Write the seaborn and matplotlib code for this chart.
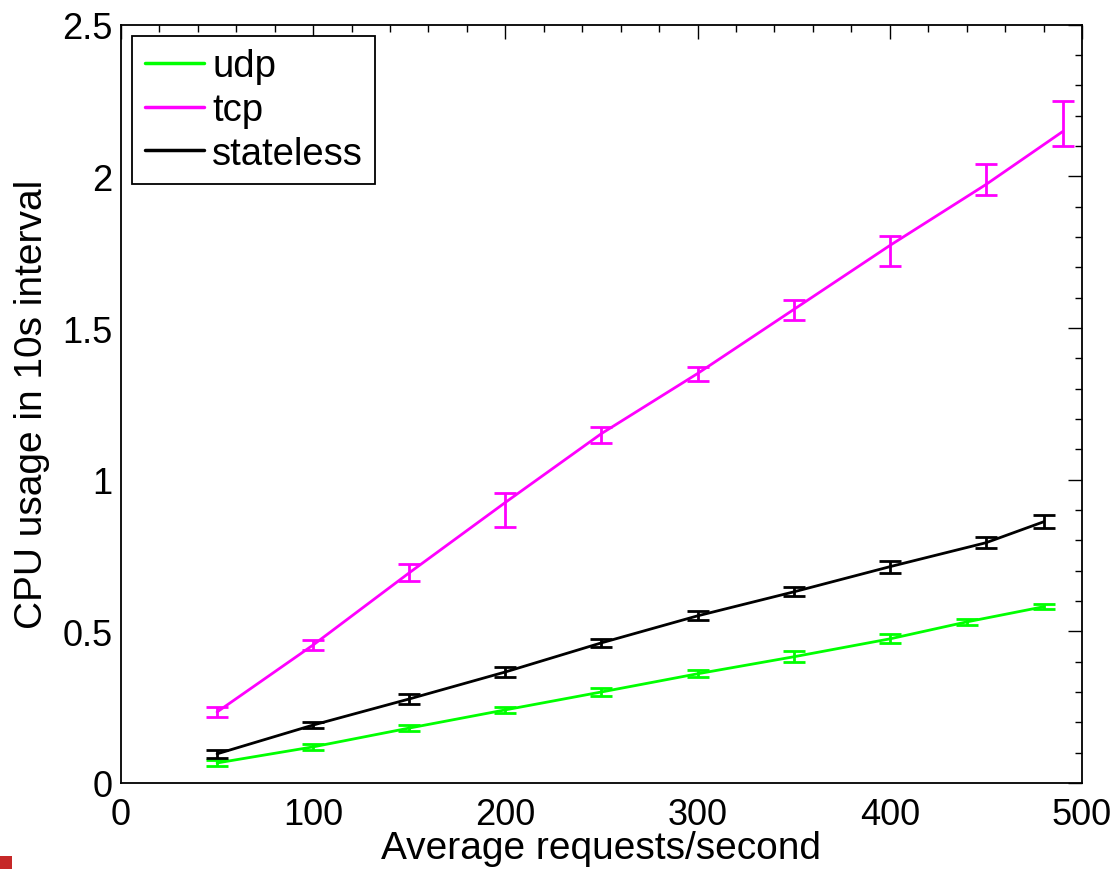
import numpy as np
import pandas as pd
import matplotlib
matplotlib.use("Agg")
import matplotlib.pyplot as plt
from matplotlib.patches import Rectangle
from matplotlib.ticker import MultipleLocator
import seaborn as sns

# ---- data ----
series_names = ["udp", "tcp", "stateless"]

udp_x = [50, 100, 150, 200, 250, 300, 350, 400, 440, 480]
udp_y = [0.066, 0.119, 0.181, 0.241, 0.300, 0.360, 0.416, 0.475, 0.531, 0.581]
udp_lo = [0.010, 0.010, 0.011, 0.011, 0.014, 0.012, 0.018, 0.015, 0.011, 0.009]
udp_hi = [0.010, 0.010, 0.011, 0.011, 0.014, 0.012, 0.018, 0.015, 0.011, 0.009]

tcp_x = [50, 100, 150, 200, 250, 300, 350, 400, 450, 490]
tcp_y = [0.234, 0.455, 0.693, 0.925, 1.152, 1.350, 1.561, 1.772, 1.973, 2.148]
tcp_lo = [0.015, 0.017, 0.028, 0.080, 0.030, 0.023, 0.033, 0.066, 0.036, 0.049]
tcp_hi = [0.015, 0.017, 0.028, 0.032, 0.023, 0.020, 0.030, 0.030, 0.067, 0.100]

st_x = [50, 100, 150, 200, 250, 300, 350, 400, 450, 480]
st_y = [0.096, 0.191, 0.277, 0.366, 0.462, 0.551, 0.630, 0.713, 0.792, 0.861]
st_lo = [0.013, 0.011, 0.016, 0.015, 0.013, 0.015, 0.015, 0.020, 0.018, 0.021]
st_hi = [0.013, 0.011, 0.016, 0.015, 0.013, 0.015, 0.015, 0.020, 0.018, 0.021]

colors = {"udp": "#00FF00", "tcp": "#FF00FF", "stateless": "#000000"}

x_ticks = [0, 100, 200, 300, 400, 500]
y_ticks = [0, 0.5, 1, 1.5, 2, 2.5]
y_tick_labels = ["0", "0.5", "1", "1.5", "2", "2.5"]

xlabel = "Average requests/second"
ylabel = "CPU usage in 10s interval"

# ---- build table ----
frames = []
for name, xs, ys, lo, hi in [("udp", udp_x, udp_y, udp_lo, udp_hi),
                              ("tcp", tcp_x, tcp_y, tcp_lo, tcp_hi),
                              ("stateless", st_x, st_y, st_lo, st_hi)]:
    frames.append(pd.DataFrame({"x": xs, "y": ys, "lo": lo, "hi": hi, "series": name}))
df = pd.concat(frames, ignore_index=True)

sns.set_theme(style="white")
plt.rcParams["font.family"] = ["Liberation Sans", "DejaVu Sans"]
plt.rcParams["text.color"] = "black"
plt.rcParams["axes.labelcolor"] = "black"

fig = plt.figure(figsize=(11.16, 8.70), dpi=100)
ax = fig.add_axes([0.1084, 0.0989, 0.8611, 0.8715])

sns.lineplot(data=df, x="x", y="y", hue="series", hue_order=series_names,
             palette=colors, linewidth=2.0, ax=ax, legend=True, sort=False,
             estimator=None)

for name in series_names:
    d = df[df.series == name]
    ax.errorbar(d["x"], d["y"], yerr=[d["lo"], d["hi"]], fmt="none",
                ecolor=colors[name], elinewidth=2.0, capsize=8, capthick=2.0,
                zorder=3)

ax.set_xlim(0, 500)
ax.set_ylim(0, 2.5)
ax.set_xticks(x_ticks)
ax.set_xticklabels([str(t) for t in x_ticks])
ax.set_yticks(y_ticks)
ax.set_yticklabels(y_tick_labels)
ax.xaxis.set_minor_locator(MultipleLocator(20))
ax.yaxis.set_minor_locator(MultipleLocator(0.1))
ax.tick_params(axis="both", which="major", direction="in", length=10, width=1.0,
               labelsize=26, top=True, right=True, colors="black", pad=6)
ax.tick_params(axis="x", which="major", pad=10)
ax.tick_params(axis="both", which="minor", direction="in", length=5, width=1.0,
               top=True, right=True, colors="black")
ax.set_xlabel(xlabel, fontsize=28, labelpad=-1, color="black")
ax.set_ylabel(ylabel, fontsize=28, labelpad=9, color="black")
for s in ax.spines.values():
    s.set_color("black")
    s.set_linewidth(1.3)
    s.set_visible(True)

leg = ax.legend(loc="upper left", fontsize=27.5, frameon=True, fancybox=False,
                framealpha=1, edgecolor="black", borderaxespad=0.3,
                handlelength=1.55, handletextpad=0.22, labelspacing=0.2,
                borderpad=0.32, title=None)
leg.get_frame().set_linewidth(1.3)
for line in leg.get_lines():
    line.set_linewidth(2.5)

# small red square at the lower-left corner of the image
fig.patches.append(Rectangle((0, 0), 12 / 1116, 13 / 870, transform=fig.transFigure,
                             facecolor="#C62828", edgecolor="none"))

fig.savefig("out.png", dpi=100)
